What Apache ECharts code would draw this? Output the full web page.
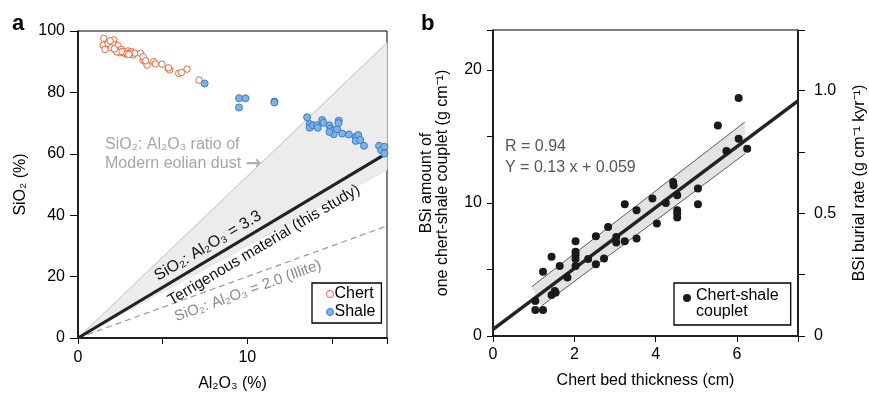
<!DOCTYPE html>
<html>
<head>
<meta charset="utf-8">
<title>Chert and shale</title>
<script src="https://cdn.jsdelivr.net/npm/echarts@6/dist/echarts.min.js"></script>
<style>
  html, body { margin: 0; padding: 0; background: #fff; }
  #chart { width: 869px; height: 400px; }
</style>
</head>
<body>
<div id="chart"></div>
<script>
// ---- panel a : SiO2 vs Al2O3 ----
var chertX = [1.52, 2.11, 1.49, 1.78, 1.6, 2.07, 2.37, 2.26, 2.56, 2.7, 2.95, 3.15, 3.25, 2.82, 2.47, 1.97,
  3.09, 3.37, 3.7, 3.84, 3.84, 3.97, 4.08, 4.47, 4.57, 4.96, 5.32, 5.42, 5.95, 6.11, 6.44, 7.15,
  2.3, 2.6, 2.9, 1.9, 2.15, 3.0, 4.0, 5.35];
var chertY = [97.6, 97.1, 95.4, 95.9, 94.0, 95.7, 95.2, 93.8, 94.0, 92.9, 93.5, 93.3, 92.2, 92.5, 92.9, 94.5,
  92.7, 92.8, 92.7, 90.5, 91.6, 90.0, 88.9, 90.0, 89.3, 89.2, 87.8, 87.3, 86.2, 86.5, 87.6, 84.0,
  93.2, 93.3, 92.6, 96.8, 94.2, 92.4, 90.3, 88.0];
var shaleX = [7.48, 9.51, 9.89, 9.51, 11.6, 11.6, 13.53, 13.68, 13.68, 13.88, 14.1, 14.16, 14.42, 14.5,
  14.85, 14.91, 15.05, 15.1, 14.85, 15.3, 15.4, 15.38, 15.6, 16.0, 16.4, 16.55, 16.4, 16.67, 16.89,
  17.78, 17.9, 18.1, 18.1];
var shaleY = [82.9, 78.1, 78.1, 75.1, 77.0, 76.7, 71.9, 69.7, 68.5, 69.3, 69.3, 68.5, 71.0, 70.1,
  69.3, 68.2, 67.5, 66.4, 67.1, 68.0, 70.8, 70.0, 66.6, 66.3, 65.5, 66.1, 64.2, 64.5, 62.6,
  62.6, 61.2, 62.3, 60.1];
var xMaxA = 18.25;
var dustRatio = 5.27;      // modern eolian dust (upper edge of grey wedge)
var bandLowRatio = 3.0;    // lower edge of grey wedge
var terrRatio = 3.3;       // this study
var illiteRatio = 2.0;

// ---- panel b : BSi vs chert bed thickness ----
var coupletX = [1.04, 1.04, 1.23, 1.23, 1.44, 1.44, 1.52, 1.54, 1.64, 1.83, 2.03, 2.03, 2.03, 2.03, 2.03,
  2.34, 2.53, 2.53, 2.73, 2.83, 3.03, 3.03, 3.24, 3.24, 3.53, 3.53, 3.92, 4.03, 4.25, 4.43, 4.44,
  4.53, 4.53, 4.53, 4.53, 5.04, 5.04, 5.53, 6.04, 6.04, 5.74, 6.25];
var coupletY = [2.63, 1.95, 1.95, 4.83, 5.95, 3.08, 3.38, 3.25, 5.27, 4.4, 7.13, 6.33, 6.08, 5.78, 5.27,
  5.78, 7.5, 5.4, 5.83, 8.2, 7.45, 7.03, 9.9, 7.13, 9.45, 7.33, 10.33, 8.45, 10.0, 11.58, 11.33,
  10.58, 9.45, 9.2, 8.9, 11.08, 9.9, 15.83, 17.88, 14.83, 13.9, 14.08];
var xMaxB = 7.5;
var fitIntercept = 0.5, fitSlope = 2.29;
var bandUpperX = [0.95, 6.19], bandUpperY = [3.7, 16.08];
var bandLowerX = [1.19, 6.2], bandLowerY = [2.25, 13.7];

var FONT = '"Liberation Sans", Arial, sans-serif';
var FS = 16;
var chertColor = '#e3673b';
var shaleFill = '#7fb2e5', shaleEdge = '#3a7cc4';

function zip(a, b) { return a.map(function (v, i) { return [v, b[i]]; }); }

var chart = echarts.init(document.getElementById('chart'));

function baseAxis(extra) {
  var ax = {
    type: 'value',
    axisLine: { show: true, onZero: false, lineStyle: { color: '#000', width: 1.5 } },
    axisTick: { show: true, inside: false, length: 6, lineStyle: { color: '#000', width: 1 } },
    axisLabel: { color: '#000', fontSize: FS, fontFamily: FONT, margin: 13 },
    splitLine: { show: false },
    nameTextStyle: { color: '#000', fontSize: FS, fontFamily: FONT },
    nameLocation: 'middle'
  };
  for (var k in extra) ax[k] = extra[k];
  return ax;
}

var option = {
  animation: false,
  textStyle: { fontFamily: FONT },
  grid: [
    { left: 78, top: 31, width: 309, height: 307, show: true, borderColor: '#000', borderWidth: 1, backgroundColor: 'transparent' },
    { left: 493, top: 30, width: 306, height: 306, show: true, borderColor: '#000', borderWidth: 1, backgroundColor: 'transparent' }
  ],
  xAxis: [
    baseAxis({ gridIndex: 0, min: 0, max: xMaxA, interval: 5, name: 'Al₂O₃ (%)', nameGap: 38,
      axisLabel: { color: '#000', fontSize: FS, fontFamily: FONT, margin: 12,
        formatter: function (v) { return v % 10 === 0 ? String(v) : ''; } } }),
    baseAxis({ gridIndex: 1, min: 0, max: xMaxB, interval: 2, name: 'Chert bed thickness (cm)', nameGap: 37,
      axisLabel: { color: '#000', fontSize: FS, fontFamily: FONT, margin: 11,
        formatter: function (v) { return (v % 2 === 0 && v < 7) ? String(v) : ''; } } })
  ],
  yAxis: [
    baseAxis({ gridIndex: 0, min: 0, max: 100, interval: 20, name: 'SiO₂ (%)', nameRotate: 90, nameGap: 49,
      axisTick: { show: true, length: 8, lineStyle: { color: '#000' } } }),
    baseAxis({ gridIndex: 1, min: 0, max: 23, interval: 5, nameRotate: 90, nameGap: 42,
      name: 'BSi amount of\none chert-shale couplet (g cm⁻¹)',
      nameTextStyle: { color: '#000', fontSize: FS, fontFamily: FONT, lineHeight: 16 },
      axisTick: { show: true, length: 6, lineStyle: { color: '#000' } },
      axisLabel: { color: '#000', fontSize: FS, fontFamily: FONT, margin: 11,
        formatter: function (v) { return v % 10 === 0 ? String(v) : ''; } } }),
    baseAxis({ gridIndex: 1, position: 'right', min: 0, max: 1.247, interval: 0.25, nameRotate: 90, nameGap: 54,
      name: 'BSi burial rate (g cm⁻¹ kyr⁻¹)',
      axisTick: { show: true, length: 7, lineStyle: { color: '#000' } },
      axisLabel: { color: '#000', fontSize: FS, fontFamily: FONT, margin: 16,
        formatter: function (v) {
          if (v === 0) return '0';
          var d = v * 2;
          return (Math.abs(d - Math.round(d)) < 1e-6 && v <= 1.0) ? v.toFixed(1) : '';
        } } })
  ],
  legend: [
    {
      data: [
        { name: 'Chert', icon: 'circle', itemStyle: { color: '#fff', borderColor: chertColor, borderWidth: 1, opacity: 1 } },
        { name: 'Shale', icon: 'circle', itemStyle: { color: shaleFill, borderColor: shaleEdge, borderWidth: 1, opacity: 1 } }
      ],
      orient: 'vertical', left: 312, top: 283, itemWidth: 7, itemHeight: 7, itemGap: 2,
      padding: [3, 6, 3, 14], borderColor: '#000', borderWidth: 1.3, backgroundColor: '#fff',
      textStyle: { fontSize: FS, color: '#000', fontFamily: FONT, padding: [0, 0, 0, -4] },
      selectedMode: false
    },
    {
      data: [{ name: 'Chert-shale couplet',
        icon: 'path://M0,4a4,4 0 1,0 8,0a4,4 0 1,0 -8,0Z M4,20 L4.01,20',
        itemStyle: { color: '#1a1a1a', opacity: 1 } }],
      formatter: function () { return 'Chert-shale\ncouplet'; },
      left: 674, top: 283, itemWidth: 8, itemHeight: 20,
      padding: [5, 12, 5, 9], borderColor: '#000', borderWidth: 1.3, backgroundColor: '#fff',
      textStyle: { fontSize: FS, color: '#000', fontFamily: FONT, lineHeight: 16, padding: [0, 0, 0, 0] },
      selectedMode: false
    }
  ],
  series: [
    {
      type: 'custom', xAxisIndex: 0, yAxisIndex: 0, silent: true, z: 1,
      data: [[0, 0]],
      renderItem: function (params, api) {
        return {
          type: 'polygon',
          shape: { points: [api.coord([0, 0]), api.coord([xMaxA, dustRatio * xMaxA]), api.coord([xMaxA, bandLowRatio * xMaxA])] },
          style: { fill: '#ececec', stroke: '#dedede', lineWidth: 0.8 }
        };
      }
    },
    {
      type: 'line', xAxisIndex: 0, yAxisIndex: 0, symbol: 'none', silent: true, z: 2,
      data: [[0, 0], [xMaxA, dustRatio * xMaxA]],
      lineStyle: { color: '#c4c4c4', width: 1 }
    },
    {
      type: 'line', xAxisIndex: 0, yAxisIndex: 0, symbol: 'none', silent: true, z: 2,
      data: [[0, 0], [xMaxA, illiteRatio * xMaxA]],
      lineStyle: { color: '#999', width: 1.2, type: [6, 4] }
    },
    {
      type: 'line', xAxisIndex: 0, yAxisIndex: 0, symbol: 'none', silent: true, z: 3,
      data: [[0, 0], [xMaxA, terrRatio * xMaxA]],
      lineStyle: { color: '#222', width: 3.2 }
    },
    {
      name: 'Chert', type: 'scatter', xAxisIndex: 0, yAxisIndex: 0, z: 4,
      data: zip(chertX, chertY), symbolSize: 6.5,
      itemStyle: { color: '#fff', borderColor: chertColor, borderWidth: 1, opacity: 1 }
    },
    {
      name: 'Shale', type: 'scatter', xAxisIndex: 0, yAxisIndex: 0, z: 4,
      data: zip(shaleX, shaleY), symbolSize: 7,
      itemStyle: { color: shaleFill, borderColor: shaleEdge, borderWidth: 1, opacity: 1 }
    },
    {
      type: 'custom', xAxisIndex: 1, yAxisIndex: 1, silent: true, z: 1,
      data: [[0, 0]],
      renderItem: function (params, api) {
        return {
          type: 'polygon',
          shape: { points: [
            api.coord([bandUpperX[0], bandUpperY[0]]), api.coord([bandUpperX[1], bandUpperY[1]]),
            api.coord([bandLowerX[1], bandLowerY[1]]), api.coord([bandLowerX[0], bandLowerY[0]])
          ] },
          style: { fill: '#e3e3e3' }
        };
      }
    },
    {
      type: 'line', xAxisIndex: 1, yAxisIndex: 1, symbol: 'none', silent: true, z: 2,
      data: zip(bandUpperX, bandUpperY), lineStyle: { color: '#333', width: 0.8 }
    },
    {
      type: 'line', xAxisIndex: 1, yAxisIndex: 1, symbol: 'none', silent: true, z: 2,
      data: zip(bandLowerX, bandLowerY), lineStyle: { color: '#333', width: 0.8 }
    },
    {
      type: 'line', xAxisIndex: 1, yAxisIndex: 1, symbol: 'none', silent: true, z: 3,
      data: [[0, fitIntercept], [xMaxB, fitIntercept + fitSlope * xMaxB]],
      lineStyle: { color: '#222', width: 3.5 }
    },
    {
      name: 'Chert-shale couplet', type: 'scatter', xAxisIndex: 1, yAxisIndex: 1, z: 4,
      data: zip(coupletX, coupletY), symbolSize: 8,
      itemStyle: { color: '#1a1a1a', opacity: 1 }
    }
  ],
  graphic: [
    { type: 'text', x: 12, y: 24, style: { text: 'a', font: 'bold 22px ' + FONT, fill: '#000', verticalAlign: 'middle' } },
    { type: 'text', x: 421, y: 24, style: { text: 'b', font: 'bold 22px ' + FONT, fill: '#000', verticalAlign: 'middle' } },
    { type: 'text', x: 105, y: 145, style: { text: 'SiO₂: Al₂O₃ ratio of', font: '16px ' + FONT, fill: '#a6a6a6', verticalAlign: 'middle' } },
    { type: 'text', x: 105, y: 164, style: {
      text: '{t|Modern eolian dust }{a|→}', verticalAlign: 'middle',
      rich: {
        t: { fontSize: 16, fontFamily: FONT, fill: '#a6a6a6', lineHeight: 20, verticalAlign: 'middle' },
        a: { fontSize: 19, fontFamily: '"DejaVu Sans", sans-serif', fontWeight: 'bold', fill: '#b0b0b0', lineHeight: 20, verticalAlign: 'middle' }
      } } },
    { type: 'text', x: 208, y: 246, rotation: 30.9 * Math.PI / 180, z: 10,
      style: { text: 'SiO₂: Al₂O₃ = 3.3', font: '16px ' + FONT, fill: '#111', align: 'center', verticalAlign: 'middle' } },
    { type: 'text', x: 264, y: 245, rotation: 30.9 * Math.PI / 180, z: 10,
      style: { text: 'Terrigenous material (this study)', font: '15.5px ' + FONT, fill: '#111', align: 'center', verticalAlign: 'middle' } },
    { type: 'text', x: 248, y: 291, rotation: 19.9 * Math.PI / 180, z: 10,
      style: { text: 'SiO₂: Al₂O₃ = 2.0 (Illite)', font: '15px ' + FONT, fill: '#8a8a8a', align: 'center', verticalAlign: 'middle' } },
    { type: 'text', x: 505, y: 147, style: { text: 'R = 0.94', font: '16px ' + FONT, fill: '#555', verticalAlign: 'middle' } },
    { type: 'text', x: 505, y: 168, style: { text: 'Y = 0.13 x + 0.059', font: '16px ' + FONT, fill: '#555', verticalAlign: 'middle' } }
  ]
};

chart.setOption(option);
</script>
</body>
</html>
